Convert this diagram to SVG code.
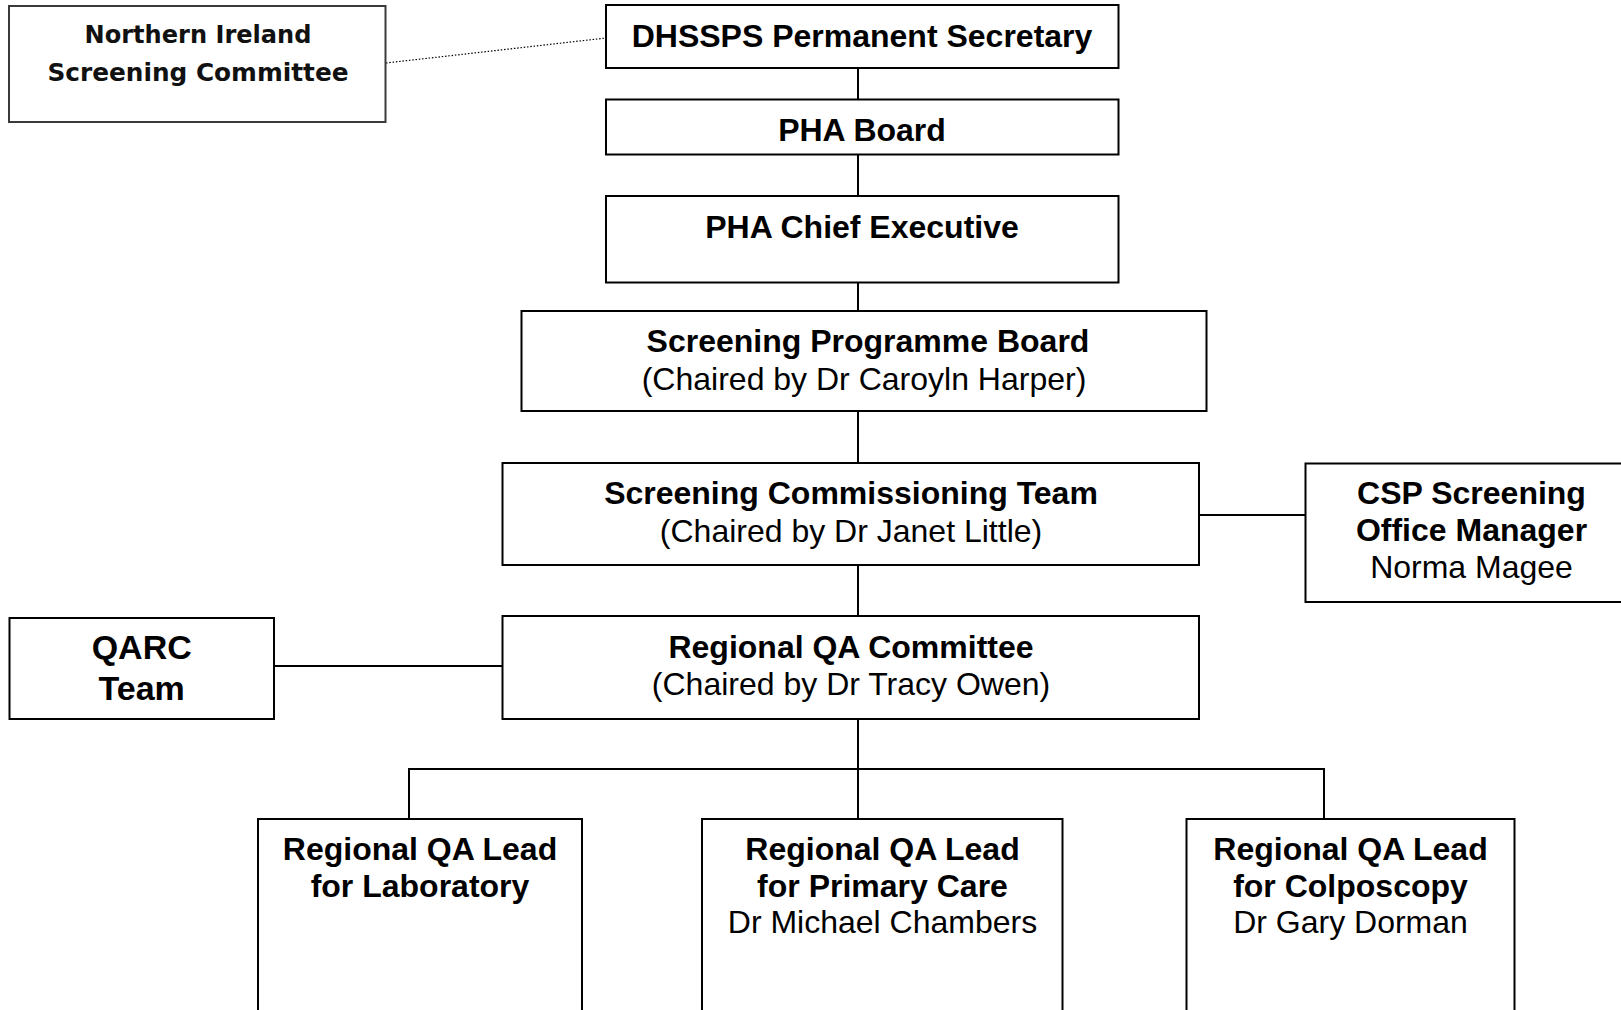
<svg xmlns="http://www.w3.org/2000/svg" width="1621" height="1010" viewBox="0 0 1621 1010">
  <style>
    .box { fill: #ffffff; stroke: #000000; stroke-width: 2; }
    .box-soft { fill: #ffffff; stroke: #3a3a3a; stroke-width: 2; }
    .link { fill: none; stroke: #000000; stroke-width: 2; }
    .dotted { fill: none; stroke: #000000; stroke-width: 1.2; stroke-dasharray: 1.5 1.8; }
    text { font-family: "Liberation Sans", Arial, sans-serif; font-size: 32px; fill: #000000; text-anchor: middle; }
    .b { font-weight: bold; }
    .big { font-size: 34px; }
    .tah { font-family: "DejaVu Sans", Tahoma, sans-serif; font-weight: bold; font-size: 24px; fill: #111111; }
  </style>

  <rect x="0" y="0" width="1621" height="1010" fill="#ffffff"/>

  <!-- connectors -->
  <g id="connectors">
    <line class="dotted" x1="386" y1="63" x2="606" y2="38"/>
    <line class="link" x1="858" y1="68" x2="858" y2="99"/>
    <line class="link" x1="858" y1="154" x2="858" y2="196"/>
    <line class="link" x1="858" y1="283" x2="858" y2="311"/>
    <line class="link" x1="858" y1="411" x2="858" y2="463"/>
    <line class="link" x1="858" y1="565" x2="858" y2="616"/>
    <line class="link" x1="1199" y1="515" x2="1305" y2="515"/>
    <line class="link" x1="274" y1="666" x2="502" y2="666"/>
    <line class="link" x1="858" y1="719" x2="858" y2="769"/>
    <line class="link" x1="409" y1="769" x2="1324" y2="769"/>
    <line class="link" x1="409" y1="768" x2="409" y2="819"/>
    <line class="link" x1="858" y1="769" x2="858" y2="819"/>
    <line class="link" x1="1324" y1="768" x2="1324" y2="819"/>
  </g>

  <!-- nodes -->
  <g id="ni-screening-committee">
    <rect class="box-soft" x="9" y="6" width="376.5" height="116"/>
    <text class="tah" x="198" y="43" textLength="227" lengthAdjust="spacingAndGlyphs">Northern Ireland</text>
    <text class="tah" x="198" y="81" textLength="301" lengthAdjust="spacingAndGlyphs">Screening Committee</text>
  </g>

  <g id="dhssps-permanent-secretary">
    <rect class="box" x="606" y="5" width="512.5" height="63"/>
    <text class="b" x="862" y="46.5">DHSSPS Permanent Secretary</text>
  </g>

  <g id="pha-board">
    <rect class="box" x="606" y="99.5" width="512.5" height="55"/>
    <text class="b" x="862" y="140.5">PHA Board</text>
  </g>

  <g id="pha-chief-executive">
    <rect class="box" x="606" y="196" width="512.5" height="86.5"/>
    <text class="b" x="862" y="238">PHA Chief Executive</text>
  </g>

  <g id="screening-programme-board">
    <rect class="box" x="521.5" y="311" width="685" height="100"/>
    <text class="b" x="868" y="352">Screening Programme Board</text>
    <text x="864" y="390">(Chaired by Dr Caroyln Harper)</text>
  </g>

  <g id="screening-commissioning-team">
    <rect class="box" x="502.5" y="463" width="696.5" height="102"/>
    <text class="b" x="851" y="504">Screening Commissioning Team</text>
    <text x="851" y="542">(Chaired by Dr Janet Little)</text>
  </g>

  <g id="csp-screening-office-manager">
    <rect class="box" x="1305.5" y="463.5" width="330" height="138.5"/>
    <text class="b" x="1471.5" y="504">CSP Screening</text>
    <text class="b" x="1471.5" y="541">Office Manager</text>
    <text x="1471.5" y="578">Norma Magee</text>
  </g>

  <g id="qarc-team">
    <rect class="box" x="9.5" y="618" width="264.5" height="101"/>
    <text class="b big" x="141.7" y="659">QARC</text>
    <text class="b big" x="141.7" y="700">Team</text>
  </g>

  <g id="regional-qa-committee">
    <rect class="box" x="502.5" y="616" width="696.5" height="103"/>
    <text class="b" x="851" y="658">Regional QA Committee</text>
    <text x="851" y="695">(Chaired by Dr Tracy Owen)</text>
  </g>

  <g id="qa-lead-laboratory">
    <rect class="box" x="258" y="819" width="324" height="220"/>
    <text class="b" x="420" y="859.5">Regional QA Lead</text>
    <text class="b" x="420" y="896.5">for Laboratory</text>
  </g>

  <g id="qa-lead-primary-care">
    <rect class="box" x="702" y="819" width="360.5" height="220"/>
    <text class="b" x="882.5" y="859.5">Regional QA Lead</text>
    <text class="b" x="882.5" y="896.5">for Primary Care</text>
    <text x="882.5" y="933">Dr Michael Chambers</text>
  </g>

  <g id="qa-lead-colposcopy">
    <rect class="box" x="1186.5" y="819" width="328" height="220"/>
    <text class="b" x="1350.5" y="859.5">Regional QA Lead</text>
    <text class="b" x="1350.5" y="896.5">for Colposcopy</text>
    <text x="1350.5" y="933">Dr Gary Dorman</text>
  </g>
</svg>
